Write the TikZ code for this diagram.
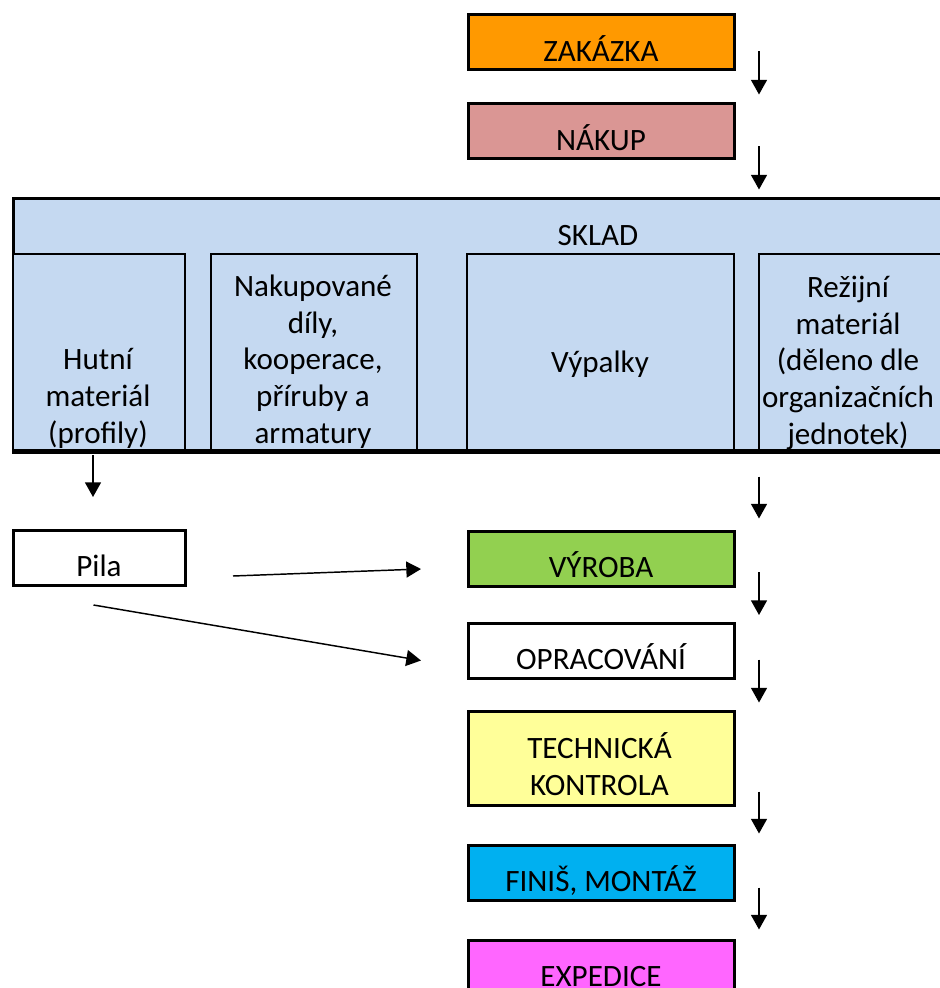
\documentclass[tikz,border=0pt]{standalone}
\usepackage{fontspec}
\setmainfont{Carlito}
\usetikzlibrary{arrows.meta,calc}
\definecolor{zakazka}{HTML}{FF9900}
\definecolor{nakup}{HTML}{DA9694}
\definecolor{sklad}{HTML}{C5D9F1}
\definecolor{vyroba}{HTML}{92D050}
\definecolor{kontrola}{HTML}{FFFF99}
\definecolor{finis}{HTML}{00B0F0}
\definecolor{expedice}{HTML}{FF66FF}
\tikzset{
  stage/.style={draw, line width=2.25pt, anchor=north west, inner sep=0pt,
    minimum width=199.5pt, minimum height=41.25pt,
    text height=34.9pt, text depth=6.35pt},
  shelf/.style={draw, line width=1.5pt, fill=sklad, anchor=north west,
    inner sep=0pt, minimum height=147pt},
  txt/.style={align=center, anchor=base, inner sep=0pt},
  flow/.style={line width=1.1pt, -{Triangle[width=12pt,length=11pt]}},
}
\begin{document}
\begin{tikzpicture}[x=0.75pt, y=-0.75pt, font=\fontsize{23.3}{27.4}\selectfont]
  \useasboundingbox (0,0) rectangle (939,988);

  % zakazka a nakup
  \node[stage, fill=zakazka] (zak) at (466.5,13.5) {ZAKÁZKA};
  \node[stage, fill=nakup] (nak) at (466.5,102.5) {NÁKUP};

  % sklad
  \node[draw, line width=2.25pt, fill=sklad, anchor=north west, inner sep=0pt,
    minimum width=699pt, minimum height=189pt] (sklad) at (12,197) {};
  \node[txt] (skladtxt) at (598,245) {SKLAD};
  \node[shelf, minimum width=129pt] (hut) at (12,253) {};
  \node[shelf, minimum width=154.5pt] (nkp) at (210,253) {};
  \node[shelf, minimum width=200.25pt] (vyp) at (466,253) {};
  \node[shelf, minimum width=142.5pt] (rez) at (758,253) {};
  \draw[line width=2.25pt] (sklad.south west) -- (sklad.south east);
  % u viceradkovych textu je base na poslednim radku
  \node[txt] (huttxt) at (98,443) {Hutní\\materiál\\(profily)};
  \node[txt] (nkptxt) at (313,443) {Nakupované\\díly,\\kooperace,\\příruby a\\armatury};
  \node[txt] (vyptxt) at (600,372) {Výpalky};
  \node[txt] (reztxt) at (848,444) {Režijní\\materiál\\(děleno dle\\organizačních\\jednotek)};

  % vyroba
  \node[stage, minimum width=129pt] (pila) at (11.5,528.5) {Pila};
  \node[stage, fill=vyroba] (vyr) at (466.5,529.5) {VÝROBA};
  \node[stage] (opr) at (466.5,621.5) {OPRACOVÁNÍ};
  \node[stage, fill=kontrola, minimum height=70.5pt, text height=, text depth=] (tech) at (466.5,709.5) {};
  \node[txt] (techtxt) at (599.5,795) {TECHNICKÁ\\KONTROLA};
  \node[stage, fill=finis] (fin) at (466.5,843.5) {FINIŠ, MONTÁŽ};
  \node[stage, fill=expedice] (exp) at (466.5,938.5) {EXPEDICE};

  % sipky
  \draw[flow] ($(zak.east)+(23.5,9)$) -- ++(0,43);
  \draw[flow] ($(nak.east)+(23.5,15)$) -- ++(0,43);
  \draw[flow] ($(vyr.north east)+(23.5,-53)$) -- ++(0,42);
  \draw[flow] ($(vyr.east)+(23.5,13.5)$) -- ++(0,43);
  \draw[flow] ($(opr.east)+(23.5,9)$) -- ++(0,43);
  \draw[flow] ($(tech.east)+(23.5,33.5)$) -- ++(0,42);
  \draw[flow] ($(fin.east)+(23.5,15)$) -- ++(0,42);
  \draw[flow] ($(hut.south)+(-6,4)$) -- ++(0,42);
  \draw[flow] ($(pila.east)+(46.5,18.5)$) -- ($(vyr.west)+(-45.5,10.5)$);
  \draw[flow] ($(pila.south)+(-5.5,18.5)$) -- ($(opr.west)+(-45.5,10)$);
\end{tikzpicture}
\end{document}
